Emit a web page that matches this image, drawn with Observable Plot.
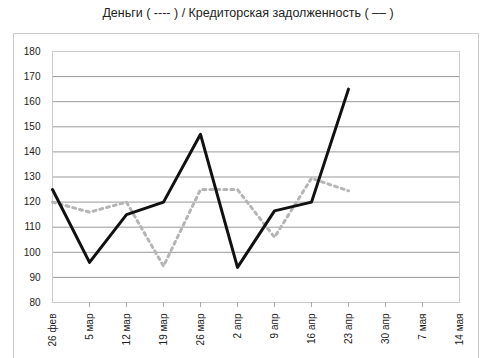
<!DOCTYPE html>
<html><head><meta charset="utf-8">
<script src="https://cdn.jsdelivr.net/npm/d3@7"></script>
<script src="https://cdn.jsdelivr.net/npm/@observablehq/plot@0.6"></script>
<style>
body{margin:0;background:#fff;font-family:"Liberation Sans",Arial,sans-serif;}
#title{position:absolute;left:0;top:6px;width:496px;text-align:center;font-size:12.5px;color:#222;}
#box{position:absolute;left:13px;top:33px;width:464px;height:330px;border:1px solid #ccc;}
#chart{position:absolute;left:0;top:33px;}
</style></head>
<body>
<div id="title">Деньги ( ---- ) / Кредиторская задолженность ( –– )</div>
<div id="box"></div>
<div id="chart"></div>
<script>
const dates = ["26 фев","5 мар","12 мар","19 мар","26 мар","2 апр","9 апр","16 апр","23 апр","30 апр","7 мая","14 мая"];
const moneyDates = ["26 фев","5 мар","12 мар","19 мар","26 мар","2 апр","9 апр","16 апр","23 апр"];
const money = [120, 116, 120, 94.5, 125, 125, 106, 129.5, 124.5];
const payables = [125, 96, 115, 120, 147, 94, 116.5, 120, 165];
const yTicks = [80, 90, 100, 110, 120, 130, 140, 150, 160, 170, 180];

const moneyData = moneyDates.map((d, i) => ({date: d, value: money[i]}));
const payData = moneyDates.map((d, i) => ({date: d, value: payables[i]}));

const chart = Plot.plot({
  width: 496, height: 325,
  marginLeft: 52, marginRight: 37, marginTop: 18, marginBottom: 56,
  style: {fontFamily: "Liberation Sans, Arial, sans-serif", fontSize: "10px", color: "#222", background: "transparent"},
  x: {type: "point", domain: dates, padding: 0},
  y: {domain: [80, 180]},
  marks: [
    Plot.gridY(yTicks.filter(t => t > 80 && t < 180), {stroke: "#999", strokeOpacity: 1, strokeWidth: 1}),
    Plot.frame({stroke: "#ccc"}),
    Plot.axisY(yTicks, {tickSize: 0, tickPadding: 12, label: null, fontSize: 10}),
    Plot.axisX(dates.slice(1, 11), {tickSize: 5, stroke: "#aaa", tickPadding: 6, tickRotate: -90, label: null, text: null}),
    Plot.axisX(dates, {tickSize: 0, tickPadding: 11, tickRotate: -90, label: null, fontSize: 10}),
    Plot.line(moneyData, {x: "date", y: "value", stroke: "#b5b5b5", strokeWidth: 3, strokeDasharray: "3,4"}),
    Plot.line(payData, {x: "date", y: "value", stroke: "#111", strokeWidth: 3})
  ]
});
document.getElementById("chart").appendChild(chart);
</script>
</body></html>
